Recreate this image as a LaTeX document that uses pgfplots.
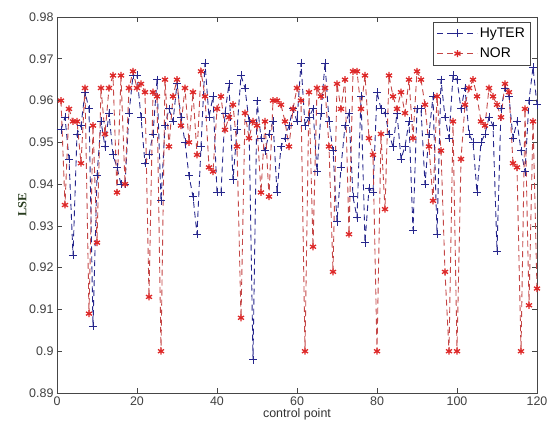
\documentclass[border=0pt]{standalone}
\usepackage{fontspec}
\setmainfont{Liberation Sans}
\newfontfamily\serifl{Liberation Serif}
\usepackage{pgfplots}
\pgfplotsset{compat=1.18}
\definecolor{hyblue}{RGB}{38,38,140}
\definecolor{norline}{RGB}{196,70,70}
\definecolor{normark}{RGB}{222,40,40}
\definecolor{lsegreen}{RGB}{40,60,30}
\definecolor{axgray}{RGB}{70,70,70}

\pgfplotstableread{
x hyter nor
1 0.953 0.960
2 0.956 0.935
3 0.946 0.958
4 0.923 0.955
5 0.952 0.955
6 0.954 0.945
7 0.962 0.963
8 0.958 0.909
9 0.906 0.954
10 0.942 0.926
11 0.955 0.963
12 0.949 0.952
13 0.957 0.963
14 0.947 0.966
15 0.944 0.938
16 0.940 0.966
17 0.940 0.940
18 0.957 0.963
19 0.966 0.967
20 0.966 0.963
21 0.956 0.964
22 0.945 0.962
23 0.947 0.913
24 0.952 0.962
25 0.965 0.961
26 0.936 0.900
27 0.954 0.965
28 0.958 0.949
29 0.955 0.961
30 0.964 0.965
31 0.956 0.954
32 0.950 0.963
33 0.942 0.950
34 0.937 0.962
35 0.928 0.947
36 0.949 0.967
37 0.969 0.961
38 0.956 0.944
39 0.961 0.943
40 0.938 0.958
41 0.938 0.961
42 0.957 0.953
43 0.964 0.956
44 0.941 0.959
45 0.953 0.949
46 0.966 0.908
47 0.963 0.957
48 0.955 0.951
49 0.898 0.955
50 0.960 0.954
51 0.951 0.938
52 0.948 0.955
53 0.952 0.937
54 0.955 0.960
55 0.938 0.960
56 0.949 0.959
57 0.951 0.955
58 0.954 0.949
59 0.958 0.958
60 0.955 0.963
61 0.969 0.960
62 0.954 0.900
63 0.956 0.962
64 0.958 0.925
65 0.943 0.963
66 0.957 0.961
67 0.969 0.963
68 0.955 0.949
69 0.948 0.919
70 0.931 0.964
71 0.944 0.958
72 0.954 0.965
73 0.957 0.928
74 0.937 0.967
75 0.932 0.967
76 0.961 0.958
77 0.926 0.966
78 0.939 0.951
79 0.938 0.947
80 0.962 0.900
81 0.958 0.952
82 0.957 0.934
83 0.952 0.966
84 0.949 0.961
85 0.957 0.958
86 0.946 0.962
87 0.949 0.957
88 0.955 0.965
89 0.929 0.951
90 0.958 0.967
91 0.958 0.965
92 0.940 0.959
93 0.952 0.949
94 0.961 0.936
95 0.928 0.961
96 0.965 0.948
97 0.956 0.919
98 0.951 0.900
99 0.966 0.955
100 0.965 0.900
101 0.958 0.946
102 0.963 0.959
103 0.952 0.963
104 0.950 0.965
105 0.938 0.961
106 0.950 0.955
107 0.952 0.954
108 0.956 0.963
109 0.954 0.961
110 0.924 0.959
111 0.958 0.956
112 0.963 0.964
113 0.961 0.962
114 0.951 0.945
115 0.955 0.944
116 0.948 0.900
117 0.943 0.958
118 0.960 0.911
119 0.968 0.955
120 0.959 0.915
}\lsedata

\begin{document}
\begin{tikzpicture}
\begin{axis}[
  name=ax, scale only axis, width=480bp, height=376bp,
  xmin=0, xmax=120, ymin=0.89, ymax=0.98,
  xtick={0,20,...,120},
  ytick={0.89,0.90,...,0.98},
  yticklabels={0.89,0.9,0.91,0.92,0.93,0.94,0.95,0.96,0.97,0.98},
  tick align=inside, major tick length=5bp,
  axis line style={axgray, line width=0.9pt},
  every tick/.style={axgray, line width=0.7pt},
  /pgf/number format/assume math mode=true,
  tick label style={font=\fontsize{12.5}{14}\selectfont, text=black!75},
  xlabel={control point},
  xlabel style={font=\fontsize{12.5}{14}\selectfont, text=black!80, yshift=4bp},
  ylabel={\serifl\bfseries LSE},
  ylabel style={font=\fontsize{12.5}{14}\selectfont, text=lsegreen, yshift=-4bp},
  legend style={at={(0.988,0.988)}, anchor=north east, draw=axgray,
    line width=0.8pt, font=\fontsize{14}{16}\selectfont,
    inner xsep=4bp, inner ysep=4bp, row sep=5bp, cells={anchor=west}},
  legend cell align=left,
  legend image code/.code={%
    \draw[mark repeat=2, mark phase=2, #1]
      plot coordinates {(0bp,0bp) (20bp,0bp) (40bp,0bp)};},
]
\addplot[hyblue, line width=0.9pt, dash pattern=on 6bp off 4bp,
  mark=+, mark size=4bp, mark options={solid, line width=0.9pt}]
  table[x=x, y=hyter] {\lsedata};
\addlegendentry{HyTER}
\addplot[norline, line width=0.9pt, dash pattern=on 6bp off 4bp,
  mark=asterisk, mark size=3.5bp, mark options={solid, normark, line width=1.3pt}]
  table[x=x, y=nor] {\lsedata};
\addlegendentry{NOR}
\end{axis}
\pgfresetboundingbox
\path[use as bounding box] ([shift={(-57bp,-42bp)}]ax.south west) rectangle ([shift={(12bp,17bp)}]ax.north east);
\end{tikzpicture}
\end{document}
